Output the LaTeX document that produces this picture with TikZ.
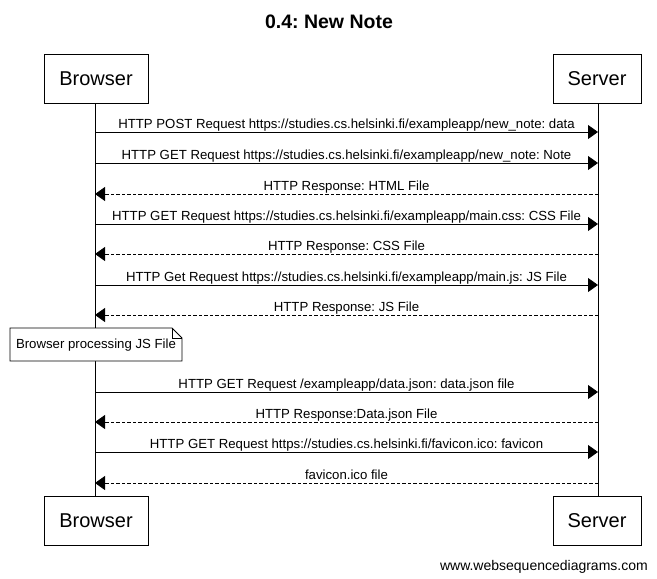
\documentclass[tikz,border=0pt]{standalone}
\usepackage{fontspec}
\setmainfont{Liberation Sans}
\usetikzlibrary{arrows.meta}
\frenchspacing
\begin{document}
\frenchspacing
\begin{tikzpicture}[x=1pt,y=-1pt,
  actor/.style={draw, line width=0.8pt, fill=white, minimum width=104pt, minimum height=49pt, inner sep=0pt, font=\fontsize{20}{24}\selectfont},
  srvactor/.style={actor, minimum width=88pt},
  life/.style={line width=0.8pt},
  msg/.style={line width=0.8pt, -{Triangle[length=10pt,width=14pt]}},
  reply/.style={msg, dash pattern=on 3.5pt off 2pt},
  lbl/.style={midway, anchor=base, yshift=4pt, inner sep=0pt, font=\fontsize{13.2}{15}\selectfont},
  notetext/.style={inner sep=0pt, font=\fontsize{13.2}{15}\selectfont}
]
\useasboundingbox (0,0) rectangle (657,579);
\fill[white] (0,0) rectangle (657,579);

\node[font=\bfseries\fontsize{19.5}{22}\selectfont] (title) at (329,22) {0.4: New Note};

\node[actor] (bt) at (96,78.5) {Browser};
\node[srvactor] (st) at (597,78.5) {Server};
\node[actor] (bb) at (96,520.5) {Browser};
\node[srvactor] (sb) at (597,520.5) {Server};

% lifelines
\coordinate (nt) at (95,328);
\coordinate (nb) at (95,361);
\draw[life] (bt.south -| 95,0) -- (nt);
\draw[life] (nb) -- (bb.north -| 95,0);
\draw[life] (st.south -| 598,0) -- (sb.north -| 598,0);

% note
\draw[line width=0.8pt, fill=white] (10,328) -- (172,328) -- (182,338) -- (182,361) -- (10,361) -- cycle;
\draw[line width=0.8pt] (172,328) -- (172,338) -- (182,338);
\node[notetext] (note) at (96,345) {Browser processing JS File};

% message anchors
\foreach \i/\y in {1/132,2/163,3/194,4/224,5/254,6/285,7/315,8/392,9/422,10/452,11/483} {
  \coordinate (b\i) at (95,\y);
  \coordinate (s\i) at (598,\y);
}

\draw[msg] (b1) -- (s1) node[lbl] {HTTP POST Request https://studies.cs.helsinki.fi/exampleapp/new\_note: data};
\draw[msg] (b2) -- (s2) node[lbl] {HTTP GET Request https://studies.cs.helsinki.fi/exampleapp/new\_note: Note};
\draw[reply] (s3) -- (b3) node[lbl] {HTTP Response: HTML File};
\draw[msg] (b4) -- (s4) node[lbl] {HTTP GET Request https://studies.cs.helsinki.fi/exampleapp/main.css: CSS File};
\draw[reply] (s5) -- (b5) node[lbl] {HTTP Response: CSS File};
\draw[msg] (b6) -- (s6) node[lbl] {HTTP Get Request https://studies.cs.helsinki.fi/exampleapp/main.js: JS File};
\draw[reply] (s7) -- (b7) node[lbl] {HTTP Response: JS File};
\draw[msg] (b8) -- (s8) node[lbl] {HTTP GET Request /exampleapp/data.json: data.json file};
\draw[reply] (s9) -- (b9) node[lbl] {HTTP Response:Data.json File};
\draw[msg] (b10) -- (s10) node[lbl] {HTTP GET Request https://studies.cs.helsinki.fi/favicon.ico: favicon};
\draw[reply] (s11) -- (b11) node[lbl] {favicon.ico file};

\node[anchor=base east, inner sep=0pt, font=\fontsize{14}{16}\selectfont] (web) at (648,570) {www.websequencediagrams.com};
\end{tikzpicture}
\end{document}
